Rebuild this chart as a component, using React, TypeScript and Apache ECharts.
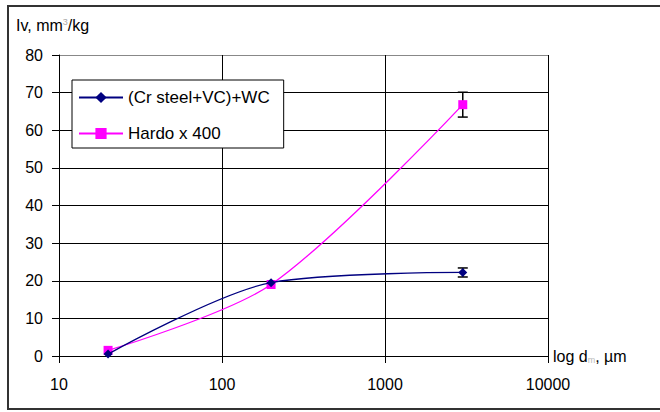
import React, { useEffect, useRef } from "react";
import * as echarts from "echarts";

const sizes = [20, 200, 3000];
const crSteelWc = [0.5, 19.5, 22.2];
const hardox = [1.5, 19, 66.8];
const crSteelErr = [0, 0, 1.2];
const hardoxErr = [0, 0, 3.3];
const seriesNames = ["(Cr steel+VC)+WC", "Hardo x 400"];

const FONT = "'Liberation Sans', Arial, sans-serif";

export default function App() {
  const ref = useRef<HTMLDivElement>(null);
  useEffect(() => {
    if (!ref.current) return;
    const chart = echarts.init(ref.current, undefined, { renderer: "svg" });
    const errData: number[][] = [];
    sizes.forEach((x, i) => {
      if (crSteelErr[i] > 0) errData.push([x, crSteelWc[i] - crSteelErr[i], crSteelWc[i] + crSteelErr[i]]);
      if (hardoxErr[i] > 0) errData.push([x, hardox[i] - hardoxErr[i], hardox[i] + hardoxErr[i]]);
    });
    const gridColors = ["#000", "#000", "#000", "#000", "#000", "#000", "#000", "#000", "#888"];
    chart.setOption({
      animation: false,
      textStyle: { fontFamily: FONT },
      title: {
        text: "{a|Iv, mm}{s|3}{a|/kg}",
        left: 11,
        top: 12,
        textStyle: {
          fontWeight: "normal",
          rich: {
            a: { fontSize: 16, color: "#000", fontFamily: FONT, fontWeight: "normal" },
            s: { fontSize: 9, color: "#aaa", fontFamily: FONT, fontWeight: "normal", verticalAlign: "top", padding: [0, 0, 8, 0] },
          },
        },
      },
      graphic: [
        {
          type: "rect",
          shape: { x: 8, y: 6, width: 700, height: 403 },
          style: { fill: "none", stroke: "#333", lineWidth: 2 },
          silent: true,
        },
      ],
      legend: {
        data: seriesNames,
        orient: "vertical",
        left: 72,
        top: 80,
        backgroundColor: "#fff",
        borderColor: "#000",
        borderWidth: 1,
        borderRadius: 0,
        padding: [9, 14, 6, 6],
        itemWidth: 44,
        itemHeight: 14,
        itemGap: 19,
        textStyle: { fontSize: 17, color: "#000", fontFamily: FONT },
      },
      grid: { left: 59, right: 112, top: 55, bottom: 56 },
      xAxis: {
        type: "log",
        logBase: 10,
        min: 10,
        max: 10000,
        name: "log d{m|m}, µm",
        nameLocation: "end",
        nameGap: 5,
        nameTextStyle: {
          fontSize: 16,
          color: "#000",
          fontFamily: FONT,
          rich: { m: { fontSize: 9, color: "#bbb", verticalAlign: "bottom", padding: [8, 0, 0, 0] } },
        },
        axisLine: { lineStyle: { color: "#000", width: 1 } },
        axisTick: { show: true, length: 7, lineStyle: { color: "#000" } },
        axisLabel: {
          fontSize: 16,
          color: "#000",
          margin: 20,
          fontFamily: FONT,
          formatter: (v: number) => String(Math.round(v)),
        },
        splitLine: { show: true, lineStyle: { color: "#000", width: 1 } },
      },
      yAxis: {
        type: "value",
        min: 0,
        max: 80,
        interval: 10,
        axisLine: { show: true, lineStyle: { color: "#000", width: 1 } },
        axisTick: { show: true, length: 7, lineStyle: { color: "#000" } },
        axisLabel: { fontSize: 16, color: "#000", margin: 16, fontFamily: FONT },
        splitLine: { show: true, lineStyle: { color: gridColors, width: 1 } },
      },
      series: [
        {
          type: "custom",
          name: "err",
          z: 1,
          data: errData,
          encode: { x: 0, y: [1, 2] },
          renderItem: (params: any, api: any) => {
            const x = api.value(0);
            const top = api.coord([x, api.value(2)]);
            const bot = api.coord([x, api.value(1)]);
            const w = 5;
            const st = { stroke: "#000", lineWidth: 1.5 };
            return {
              type: "group",
              children: [
                { type: "line", shape: { x1: top[0], y1: top[1], x2: bot[0], y2: bot[1] }, style: st },
                { type: "line", shape: { x1: top[0] - w, y1: top[1], x2: top[0] + w, y2: top[1] }, style: st },
                { type: "line", shape: { x1: bot[0] - w, y1: bot[1], x2: bot[0] + w, y2: bot[1] }, style: st },
              ],
            };
          },
        },
        {
          type: "line",
          name: seriesNames[0],
          z: 3,
          smooth: 0.3,
          data: sizes.map((x, i) => [x, crSteelWc[i]]),
          symbol: "diamond",
          symbolSize: 9,
          lineStyle: { color: "#000080", width: 1.3 },
          itemStyle: { color: "#000080" },
        },
        {
          type: "line",
          name: seriesNames[1],
          z: 2,
          smooth: 0.3,
          data: sizes.map((x, i) => [x, hardox[i]]),
          symbol: "rect",
          symbolSize: 9,
          lineStyle: { color: "#FF00FF", width: 1.3 },
          itemStyle: { color: "#FF00FF" },
        },
      ],
    });
    return () => chart.dispose();
  }, []);
  return <div ref={ref} style={{ position: "absolute", left: 0, top: 0, width: 660, height: 412 }} />;
}
